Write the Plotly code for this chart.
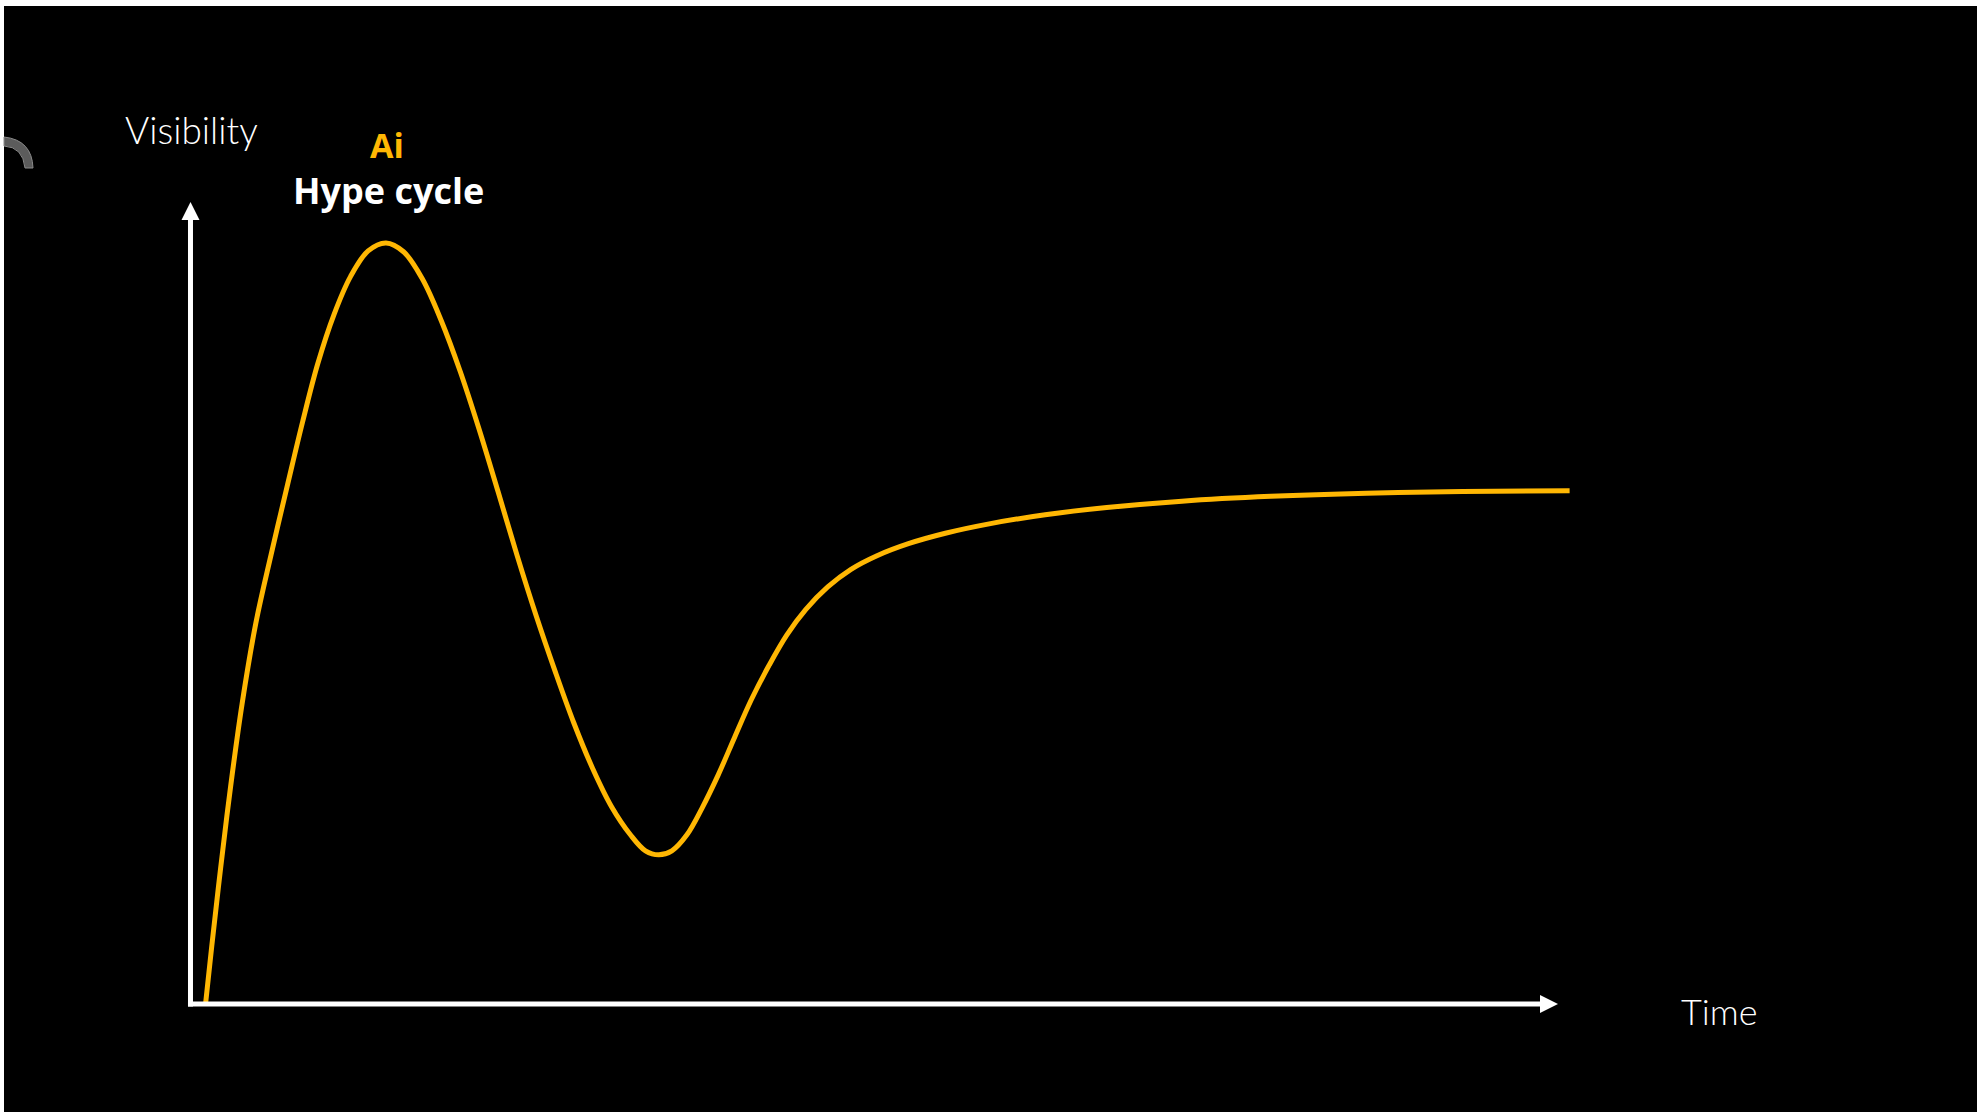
import plotly.graph_objects as go

# Hype-cycle curve: time (0-100 along the arrow) vs. visibility (0-100 up the arrow)
time = [1.1, 1.56, 2.2, 2.94, 3.77, 4.78, 5.89, 7.09, 8.2, 9.3, 10.5, 11.7, 12.99,
        14.3, 15.58, 16.96, 18.34, 19.72, 21.1, 22.49, 23.87, 25.26, 26.64,
        28.02, 29.4, 30.79, 32.17, 33.27, 34.25, 35.2, 36.3, 37.4, 38.6, 39.8,
        41.0, 42.3, 43.6, 45.0, 46.6, 48.3, 50.2, 52.5, 55.2, 58.5, 62.5, 67.0,
        72.5, 79.0, 86.0, 93.0, 100.85]
visibility = [0.0, 7.3, 16.9, 27.2, 37.4, 47.5, 56.0, 64.7, 72.6, 79.8, 86.0, 90.7,
              93.9, 94.9, 93.8, 90.4, 85.2, 78.9, 71.7, 63.9, 56.0, 48.5, 41.6,
              35.1, 29.4, 24.6, 21.1, 19.1, 18.6, 19.1, 21.1, 24.4, 28.6, 33.3,
              37.9, 42.2, 46.0, 49.2, 52.0, 54.2, 55.9, 57.4, 58.7, 59.9, 61.0, 61.9,
              62.7, 63.3, 63.7, 63.9, 64.0]

title_top = "Ai"
title_bottom = "Hype cycle"
y_label = "Visibility"
x_label = "Time"

W, H = 1977, 1112
X_RANGE = [-13.93, 130.64]
Y_RANGE = [-13.47, 125.19]
CURVE = "#FFB703"
LIGHT_FONT = "Lato"
BOLD_FONT = "Open Sans"

fig = go.Figure()
fig.add_trace(go.Scatter(
    x=time, y=visibility, mode="lines",
    line=dict(color=CURVE, width=5, shape="spline", smoothing=1.0),
    hoverinfo="skip", showlegend=False,
))

# per-pixel data units, used for the arrow heads
ux = (X_RANGE[1] - X_RANGE[0]) / W
uy = (Y_RANGE[1] - Y_RANGE[0]) / H

shapes = []
# vertical axis with arrow
shapes.append(dict(type="line", x0=0, x1=0, y0=-2.5 * uy, y1=100 - 18 * uy,
                   line=dict(color="white", width=5)))
shapes.append(dict(type="path",
                   path=f"M {-9*ux} {100-18*uy} L {9*ux} {100-18*uy} L 0 100 Z",
                   fillcolor="white", line=dict(width=0)))
# horizontal axis with arrow
shapes.append(dict(type="line", x0=-2.5 * ux, x1=100 - 18 * ux, y0=0, y1=0,
                   line=dict(color="white", width=5)))
shapes.append(dict(type="path",
                   path=f"M {100-18*ux} {9*uy} L {100-18*ux} {-9*uy} L 100 0 Z",
                   fillcolor="white", line=dict(width=0)))

# frame strips along the top and left edges
shapes.append(dict(type="rect", xref="paper", yref="paper", x0=0, x1=1,
                   y0=1 - 6 / H, y1=1, fillcolor="white", line=dict(width=0)))
shapes.append(dict(type="rect", xref="paper", yref="paper", x0=0, x1=4 / W,
                   y0=0, y1=1, fillcolor="white", line=dict(width=0)))


def px(x):
    return x / W


def py(y):
    return 1 - y / H


# partial grey ring clipped at the left edge
shapes.append(dict(
    type="path", xref="paper", yref="paper",
    path=(f"M {px(4)} {py(137)} "
          f"Q {px(32)} {py(140)} {px(33)} {py(168)} "
          f"L {px(25)} {py(168)} "
          f"Q {px(23)} {py(147)} {px(4)} {py(146)} Z"),
    fillcolor="#5c5c5c", line=dict(color="#8a8a8a", width=1)))


def label(text, cx, cy, size, color, weight, family):
    return dict(text=text, x=px(cx), y=py(cy), xref="paper", yref="paper",
                xanchor="center", yanchor="middle", showarrow=False,
                font=dict(family=family, size=size, color=color, weight=weight))


annotations = [
    label(y_label, 191, 129, 37, "white", 300, LIGHT_FONT),
    label(title_top, 387, 145, 34, CURVE, 700, BOLD_FONT),
    label(title_bottom, 388, 191, 36, "white", 700, BOLD_FONT),
    label(x_label, 1719, 1011, 36, "white", 300, LIGHT_FONT),
]

fig.update_layout(
    width=W, height=H,
    margin=dict(l=0, r=0, t=0, b=0),
    paper_bgcolor="black", plot_bgcolor="black",
    xaxis=dict(range=X_RANGE, visible=False, fixedrange=True),
    yaxis=dict(range=Y_RANGE, visible=False, fixedrange=True),
    shapes=shapes, annotations=annotations,
)

fig.write_html("out.html", config={"displayModeBar": False})
